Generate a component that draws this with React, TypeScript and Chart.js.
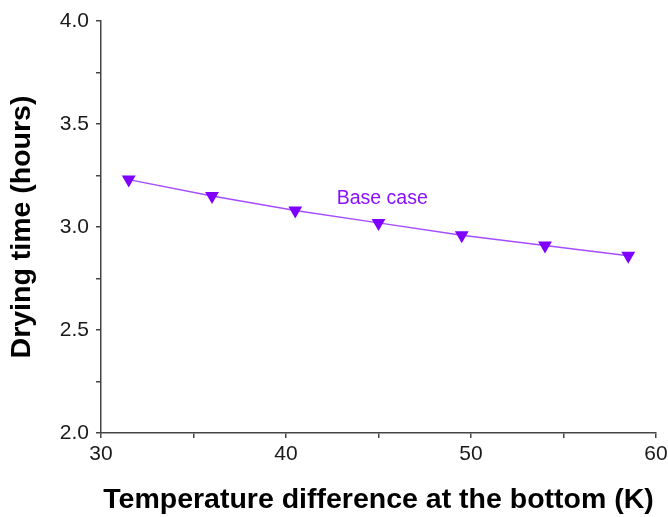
import React, { useEffect, useRef } from "react";
import { Chart, registerables } from "chart.js";

Chart.register(...registerables);

const tempDiff = [31.5, 36, 40.5, 45, 49.5, 54, 58.5];
const dryingTime = [3.23, 3.15, 3.08, 3.02, 2.96, 2.91, 2.86];
const seriesLabel = "Base case";
const labelPos = { x: 45.2, y: 3.14 };
const xTitle = "Temperature difference at the bottom (K)";
const yTitle = "Drying time (hours)";

const FONT = "Arial, 'Liberation Sans', sans-serif";

export default function App() {
  const ref = useRef<HTMLCanvasElement | null>(null);

  useEffect(() => {
    if (!ref.current) return;
    const labelPlugin = {
      id: "seriesLabel",
      afterDatasetsDraw(chart: any) {
        const { ctx, scales } = chart;
        const px = scales.x.getPixelForValue(labelPos.x);
        const py = scales.y.getPixelForValue(labelPos.y);
        ctx.save();
        ctx.font = `19.5px ${FONT}`;
        ctx.fillStyle = "#8a10ff";
        ctx.textAlign = "center";
        ctx.textBaseline = "middle";
        ctx.fillText(seriesLabel, px, py);
        ctx.restore();
      },
    };
    const chart = new Chart(ref.current, {
      type: "scatter",
      data: {
        datasets: [
          {
            label: seriesLabel,
            data: tempDiff.map((x, i) => ({ x, y: dryingTime[i] })),
            showLine: true,
            borderColor: "#a64dff",
            borderWidth: 1.5,
            pointStyle: "triangle",
            rotation: 180,
            pointRadius: 8,
            pointBackgroundColor: "#7f00ff",
            pointBorderColor: "#7f00ff",
            pointBorderWidth: 0,
          } as any,
        ],
      },
      options: {
        animation: false,
        responsive: false,
        layout: { padding: { top: 21, right: 12, bottom: 0, left: 0 } },
        plugins: { legend: { display: false }, tooltip: { enabled: false } },
        scales: {
          x: {
            type: "linear",
            min: 30,
            max: 60,
            afterFit: (s: any) => {
              s.height = 84;
              s.paddingRight = 0;
              s.paddingLeft = 0;
            },
            border: { display: true, color: "#444", width: 1.5 },
            grid: { drawOnChartArea: false, drawTicks: true, tickLength: 5, color: "#444", lineWidth: 1.5 },
            ticks: {
              stepSize: 5,
              padding: 4,
              color: "#1a1a1a",
              font: { family: FONT, size: 21 },
              maxRotation: 0,
              autoSkip: false,
              callback: (v: any) => (Number(v) % 10 === 0 ? String(v) : ""),
            },
            title: {
              display: true,
              text: xTitle,
              color: "#000",
              font: { family: FONT, size: 28.5, weight: "bold" },
              padding: { top: 0, bottom: 0 },
            },
          },
          y: {
            type: "linear",
            min: 2,
            max: 4,
            afterFit: (s: any) => {
              s.width = 101;
            },
            border: { display: true, color: "#444", width: 1.5 },
            grid: { drawOnChartArea: false, drawTicks: true, tickLength: 5, color: "#444", lineWidth: 1.5 },
            ticks: {
              stepSize: 0.25,
              padding: 7,
              color: "#1a1a1a",
              font: { family: FONT, size: 21 },
              autoSkip: false,
              callback: (v: any) => {
                const n = Number(v);
                return Math.abs(n * 2 - Math.round(n * 2)) < 1e-6 ? n.toFixed(1) : "";
              },
            },
            title: {
              display: true,
              text: yTitle,
              color: "#000",
              font: { family: FONT, size: 28.5, weight: "bold" },
              padding: { top: 5, bottom: 0 },
            },
          },
        },
      },
      plugins: [labelPlugin],
    });
    return () => chart.destroy();
  }, []);

  return (
    <div style={{ position: "absolute", left: 0, top: 0, width: 668, height: 517, background: "#fff" }}>
      <canvas ref={ref} width={668} height={517} style={{ display: "block" }} />
    </div>
  );
}
